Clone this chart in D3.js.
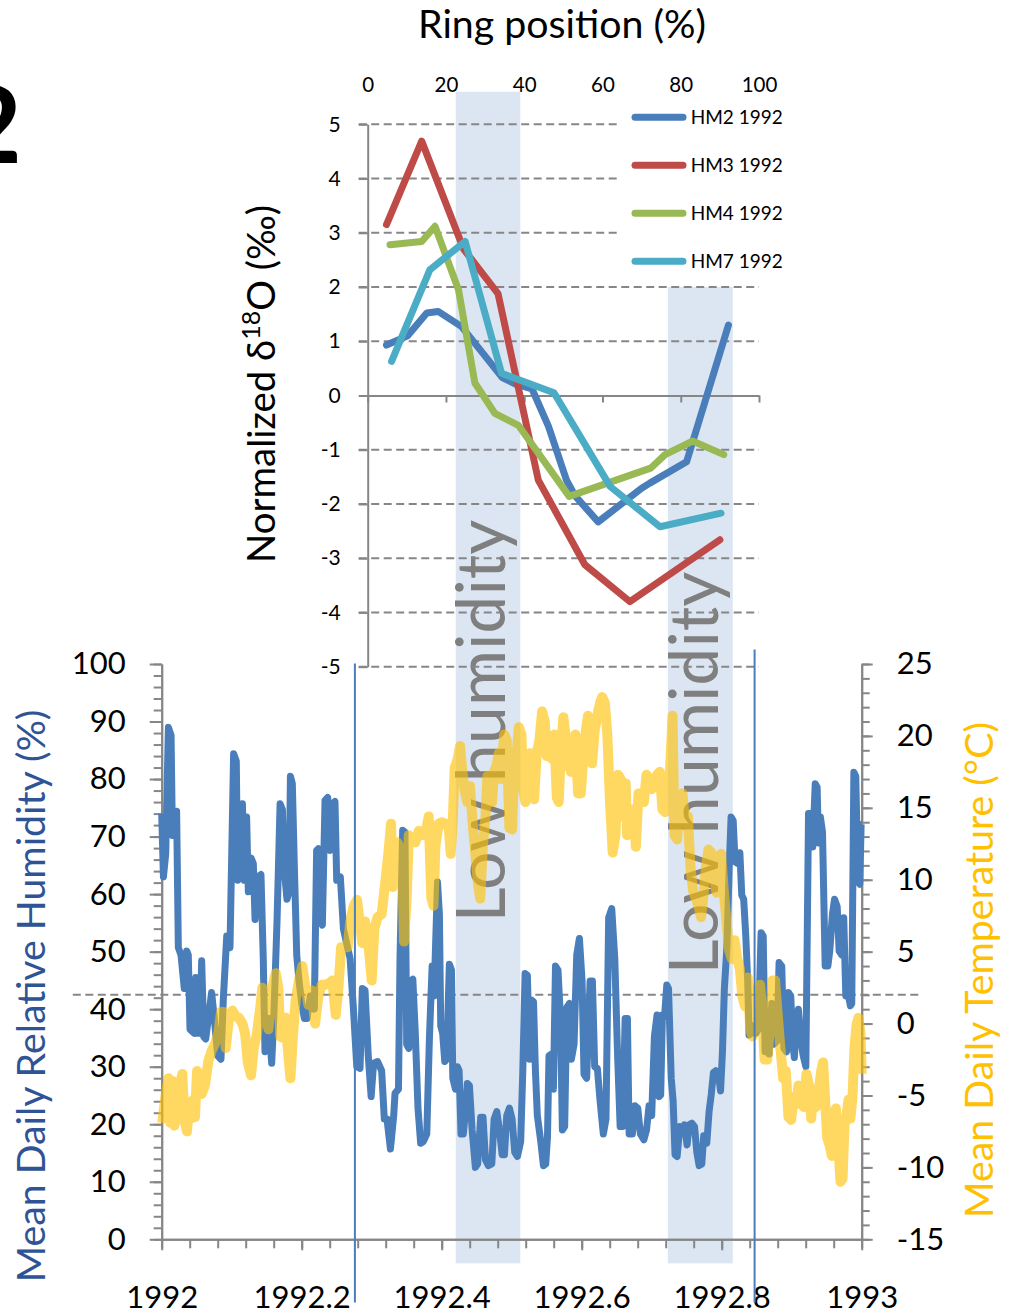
<!DOCTYPE html>
<html>
<head>
<meta charset="utf-8">
<script src="https://cdn.jsdelivr.net/npm/d3@7"></script>
<style>
  body { margin: 0; background: #fff; }
  svg { display: block; font-family: Lato, "Open Sans", sans-serif; }
</style>
</head>
<body>
<script>
// ---- top panel: ring position vs normalized d18O ----
const ringTicks = [0, 20, 40, 60, 80, 100];
const deltaTicks = [5, 4, 3, 2, 1, 0, -1, -2, -3, -4, -5];
const seriesNames = ["HM2 1992", "HM3 1992", "HM4 1992", "HM7 1992"];

const hm2 = [[4.8, 0.93], [10.2, 1.1], [15.1, 1.52], [18, 1.55], [24, 1.27], [34.4, 0.33], [37.5, 0.22],
  [42, 0.12], [46.2, -0.57], [50.8, -1.56], [53, -1.85], [58.9, -2.33], [70, -1.71], [72, -1.62],
  [81.5, -1.22], [92.2, 1.3]];
const hm3 = [[4.8, 3.15], [13.8, 4.69], [24.5, 2.7], [33.3, 1.88], [43.6, -1.56], [55.5, -3.12],
  [67, -3.8], [90, -2.66]];
const hm4 = [[5.7, 2.78], [13.8, 2.84], [17.2, 3.12], [23.2, 1.95], [27.4, 0.23], [32.5, -0.33],
  [38.5, -0.55], [51.5, -1.86], [72.3, -1.34], [76, -1.09], [83, -0.84], [91, -1.09]];
const hm7 = [[6.1, 0.63], [15.9, 2.32], [24.9, 2.84], [34.2, 0.41], [47.6, 0.05], [62, -1.68],
  [74.7, -2.42], [90.3, -2.17]];

// low humidity periods: ring position from, to, band top, band bottom (permil units)
const lowHumidity = [[22.5, 39.0, 5.6, -16], [76.7, 93.3, 2.0, -16]];

// ---- bottom panel: daily climate 1992 ----
const yearTicks = [1992, 1992.2, 1992.4, 1992.6, 1992.8, 1993];
const humidityTicks = [0, 10, 20, 30, 40, 50, 60, 70, 80, 90, 100];
const temperatureTicks = [-15, -10, -5, 0, 5, 10, 15, 20, 25];

// [day of year, mean daily relative humidity %]
const humidity = [[0, 74], [0.9, 63], [2.1, 67], [3.5, 89], [4.9, 87.6], [5.6, 70.2], [6.6, 72], [7.8, 74.4],
  [8.7, 50.7], [10.1, 49.4], [11.8, 43.6], [13.1, 50.1], [13.9, 49.4], [14.8, 36.5], [17.1, 35.8],
  [17.8, 45.5], [18.8, 35.8], [20, 35.8], [20.9, 48.4], [22, 35.2], [23, 34.8], [24.4, 38.4], [26.1, 42.9],
  [27.5, 38.4], [29.3, 31.9], [31, 31.3], [32.2, 41.6], [34, 52.7], [35.7, 50.7], [37.6, 84.4], [39, 83.1],
  [39.7, 62.4], [41.1, 70.8], [42.2, 75.7], [43.2, 62.4], [44.4, 73.4], [45.3, 60.4], [46.7, 66.3],
  [47.9, 65.3], [48.8, 55.6], [50.2, 63], [51.9, 63.4], [53.1, 48.8], [54, 32.6], [55.8, 38.4], [57.5, 30.6],
  [58.6, 38.4], [60.3, 55.3], [61.9, 75.7], [63.1, 74.7], [64.1, 64.3], [65.5, 59.1], [66.6, 60.4],
  [67.3, 80.5], [68.3, 79.2], [69.4, 64.3], [70.6, 49.4], [71.8, 44.9], [73.2, 41], [74.6, 38.4], [76, 38.4],
  [77.7, 42.3], [79.8, 40], [81, 67.6], [81.9, 67.9], [82.8, 55.9], [84, 54.6], [85.4, 76.3], [86.8, 76.8],
  [88, 67.6], [89.2, 75.7], [90.6, 76.1], [91.5, 62.4], [93.4, 63], [95, 54], [96.7, 51.4], [98.5, 48.8],
  [100.2, 40.3], [102, 30], [103.7, 29.7], [104.9, 43.6], [106.3, 43.3], [108, 31.9], [109.5, 24.8],
  [110.8, 30.6], [112.9, 30.9], [115, 29.3], [116.4, 20.9], [117.8, 20.9], [119.6, 15.7], [121.3, 21.5],
  [122, 25.4], [123.8, 26.1], [124.6, 48.8], [126, 71.1], [127.2, 70.8], [128.1, 33.9], [129.2, 33.2],
  [130.2, 44.9], [131.3, 45.2], [132.6, 35.8], [134, 22.8], [135.4, 16.7], [136.8, 17], [138.6, 18.3],
  [140, 35.2], [141.4, 47.5], [142.4, 42.3], [144.2, 62.1], [145.2, 56.5], [145.9, 37.1], [146.9, 35.8],
  [148, 30.9], [149, 31.3], [150.4, 47.8], [151.5, 46.8], [152.2, 28], [153.6, 26.1], [154.6, 30],
  [155.5, 29.3], [156.5, 18.3], [157.7, 18.3], [158.8, 22.2], [159.8, 27.1], [160.9, 26.7], [162.3, 19],
  [164, 12.5], [165.2, 13.1], [166.8, 21.2], [168, 21.2], [169.3, 13.8], [170.8, 12.8], [172.6, 13.1],
  [173.8, 20.9], [175.2, 22.2], [176.6, 19], [178, 14.7], [179.2, 14.7], [180.4, 21.5], [181.8, 22.8],
  [183.2, 20.9], [184.6, 15.1], [186, 14.4], [187.7, 17], [188.8, 29.3], [190, 46.2], [191.2, 45.9],
  [192.3, 31.3], [193.3, 41.6], [194.4, 41.3], [195.4, 29.3], [196.4, 21.5], [198.2, 17], [199.6, 12.8],
  [200.8, 13.1], [201.7, 17.7], [202.5, 31.9], [203.9, 32.2], [204.8, 26.1], [205.9, 47.5], [207.2, 46.8],
  [208.5, 38.4], [209.5, 19], [210.7, 19.6], [211.8, 40.3], [213.2, 41], [214.2, 31.3], [215.6, 33.9],
  [217, 49.4], [218.4, 52.3], [219.8, 44.9], [220.8, 28.7], [222.2, 28], [224, 44.9], [225.2, 44.9],
  [226.4, 30], [227.8, 29.7], [229.2, 24.1], [230.9, 18.3], [232.3, 20.9], [233.7, 55.9], [235.3, 57.5],
  [236.9, 48.8], [238.3, 32.6], [239.7, 19.6], [241.1, 19.6], [242.3, 38.4], [243.5, 38.4], [244.4, 18.3],
  [246.1, 18.3], [247.5, 23.2], [248.9, 22.8], [250.3, 18.3], [252.1, 17.3], [253.5, 19], [254.8, 23.2],
  [256.2, 21.5], [257.6, 35.2], [259, 39], [260.1, 24.8], [260.9, 25.1], [261.8, 39], [262.9, 38.7],
  [264.1, 44.2], [265, 43.6], [266.4, 28], [267.4, 24.1], [268.4, 14.7], [269.5, 14.4], [270.9, 19.6],
  [272.3, 19], [273.3, 19.9], [274.7, 16.4], [275.8, 19.9], [277.2, 20.2], [278.6, 19.6], [279.8, 15.1],
  [281, 12.8], [282.4, 13.1], [283.4, 18], [285, 16.7], [286.2, 22.2], [287.3, 25.1], [288.5, 29],
  [289.7, 29.3], [291.1, 28.7], [292.2, 25.8], [293.2, 32.6], [294.2, 43.6], [295.5, 50.7], [296.7, 64.3],
  [297.7, 73.4], [298.8, 72.8], [299.8, 65.6], [301.2, 65.3], [302.3, 67.2], [303.3, 59.8], [304.3, 59.1],
  [305.4, 52.7], [306.4, 44.9], [307.1, 35.5], [308.2, 35.8], [309.2, 37.1], [310.6, 35.8], [312, 36.5],
  [313.4, 53.3], [314.5, 52.7], [315.5, 32.6], [316.6, 34.5], [317.6, 32.2], [319, 41], [320, 33.9],
  [321.8, 34.5], [322.8, 48.1], [324.2, 47.5], [325.3, 33.2], [326.7, 32.6], [327.7, 42.9], [328.9, 42.3],
  [330, 33.9], [330.8, 31.6], [331.9, 38.4], [332.9, 40], [334.2, 34.5], [335.4, 31.9], [336.8, 30],
  [338.2, 74], [339.6, 74], [340.4, 68.2], [341.7, 79.2], [342.7, 78.6], [343.4, 68.9], [344.4, 73.4],
  [345.5, 70.8], [346.9, 47.5], [348.3, 47.5], [349.3, 50.1], [350.7, 56.5], [351.8, 59.1], [353.2, 57.8],
  [354.2, 50.1], [355.6, 49.4], [356.6, 55.9], [357.7, 42.3], [359.1, 42.3], [360.1, 40.6], [360.8, 41],
  [361.9, 81.2], [362.9, 80.5], [364, 62.4], [365, 61.7], [365.7, 72.1], [366, 72.1]];

// [day of year, mean daily temperature °C]
const temperature = [[0.3, -6.9], [1.7, -5.3], [3.5, -3.8], [4.5, -6.9], [5.6, -4.0], [6.6, -7.1], [7.7, -6.6],
  [9.0, -4.6], [10.8, -3.5], [11.8, -6.6], [13.2, -7.5], [14.3, -5.9], [15.3, -6.6], [16.4, -5.3],
  [17.4, -6.5], [18.5, -3.3], [19.5, -3.5], [20.9, -4.9], [22.6, -4.3], [24.4, -2.6], [26.1, -1.9],
  [27.9, -1.4], [29.6, -0.7], [31.0, 0.8], [32.2, 0.8], [33.5, -1.7], [35.2, 0.4], [37.0, 0.9], [38.7, 0.5],
  [40.4, 0.4], [42.2, 0.0], [43.6, -0.7], [45.0, -2.7], [46.7, -3.6], [48.1, -1.7], [49.8, -0.7], [51.6, 1.2],
  [52.6, 2.5], [54.0, 1.2], [55.8, -0.4], [57.5, 2.3], [59.6, 3.5], [61.0, 2.5], [62.0, -0.9], [63.4, -1.0],
  [64.8, 0.4], [65.9, -1.7], [67.3, -3.8], [68.7, -0.7], [70.1, 1.7], [71.8, 3.0], [73.5, 4.0], [74.9, 2.7],
  [76.7, 1.3], [78.4, 2.3], [80.2, 0.0], [81.9, 1.9], [83.7, 2.7], [85.7, 2.7], [87.5, 2.8], [89.2, 3.0],
  [91.0, 0.6], [92.4, 2.5], [93.8, 5.3], [95.5, 5.3], [97.2, 5.3], [98.6, 7.1], [100.4, 8.2], [102.1, 8.6],
  [103.5, 7.1], [104.9, 5.6], [106.3, 7.1], [108.0, 5.6], [109.8, 3.0], [111.2, 6.6], [112.9, 7.4],
  [115.0, 7.6], [116.8, 9.7], [118.5, 11.8], [119.9, 13.9], [120.8, 9.5], [122.0, 11.8], [123.2, 12.6],
  [124.6, 12.2], [125.7, 11.8], [126.7, 5.7], [128.1, 8.7], [129.2, 13.1], [130.9, 12.8], [132.6, 12.6],
  [134.4, 13.4], [136.1, 13.1], [137.9, 13.2], [139.6, 14.4], [141.0, 8.7], [142.1, 8.2], [143.1, 12.3],
  [144.8, 13.9], [146.6, 14.0], [148.3, 13.9], [150.1, 13.6], [151.1, 11.8], [152.2, 14.1], [153.2, 17.8],
  [154.6, 18.3], [156.0, 19.3], [157.0, 17.8], [158.4, 16.2], [159.8, 15.4], [161.2, 16.5], [162.6, 13.9],
  [164.0, 11.8], [165.4, 9.7], [166.5, 8.7], [167.9, 12.3], [169.3, 14.4], [170.3, 17.2], [171.7, 17.0],
  [172.7, 15.4], [173.8, 17.5], [175.2, 18.0], [176.2, 18.8], [177.6, 17.0], [179.0, 20.1], [180.4, 19.7],
  [181.8, 13.6], [183.2, 13.5], [184.2, 17.5], [185.6, 18.8], [186.7, 20.6], [188.1, 20.1], [189.1, 16.2],
  [190.2, 15.4], [191.6, 17.5], [192.6, 18.8], [193.7, 16.5], [194.7, 15.6], [196.1, 18.8], [197.5, 19.7],
  [198.9, 21.7], [200.3, 21.0], [201.3, 18.6], [202.7, 19.3], [204.1, 18.4], [205.2, 20.1], [206.6, 15.7],
  [207.6, 15.4], [208.6, 18.6], [210.0, 21.3], [211.1, 20.1], [212.5, 18.3], [213.9, 17.5], [215.3, 19.6],
  [216.3, 20.1], [217.7, 16.0], [219.1, 16.0], [220.5, 18.6], [221.9, 20.5], [222.9, 21.4], [224.0, 21.0],
  [225.0, 18.1], [226.4, 20.4], [227.8, 21.4], [229.2, 22.3], [230.3, 22.7], [231.7, 22.3], [233.0, 20.1],
  [234.4, 15.4], [235.8, 11.9], [237.2, 13.1], [238.6, 17.3], [240.0, 17.0], [241.4, 14.4], [242.6, 16.7],
  [243.3, 13.1], [244.4, 14.9], [245.4, 14.4], [246.8, 14.9], [247.9, 12.3], [249.3, 16.0], [250.7, 16.0],
  [252.1, 15.4], [253.5, 17.3], [254.8, 17.0], [256.2, 16.3], [257.6, 16.6], [259.0, 17.3], [260.4, 17.5],
  [261.8, 14.9], [263.2, 14.7], [264.3, 15.4], [265.7, 17.5], [267.1, 21.4], [268.1, 13.1], [269.5, 12.8],
  [270.9, 15.7], [272.3, 16.0], [273.7, 13.9], [275.1, 14.4], [276.5, 10.8], [277.9, 9.2], [279.3, 8.7],
  [280.6, 8.2], [282.0, 7.4], [283.1, 8.7], [284.5, 10.8], [285.9, 12.1], [287.3, 11.9], [288.7, 10.2],
  [290.1, 9.1], [291.1, 11.5], [292.5, 11.8], [293.9, 9.2], [295.3, 7.1], [296.7, 5.1], [298.1, 4.5],
  [299.5, 5.8], [300.9, 4.5], [302.3, 3.8], [303.6, 1.9], [305.0, 1.2], [306.4, 3.2], [307.7, -0.4],
  [308.9, -0.9], [310.3, 0.9], [311.7, 2.5], [312.9, 2.7], [314.1, 0.4], [315.2, -2.5], [316.6, -2.5],
  [318.0, -0.4], [319.3, 3.0], [320.7, 3.0], [322.1, 0.6], [323.5, -1.7], [324.9, -3.8], [326.3, -3.3],
  [327.7, -6.5], [329.1, -6.7], [330.5, -5.1], [331.9, -5.6], [332.9, -4.3], [334.3, -5.3], [335.7, -5.8],
  [337.1, -3.5], [338.5, -4.3], [339.6, -6.6], [340.6, -4.6], [342.0, -5.8], [343.4, -4.8], [344.8, -3.3],
  [345.8, -2.7], [346.9, -5.3], [347.9, -7.9], [349.3, -8.5], [350.4, -9.2], [351.4, -6.4], [352.5, -5.9],
  [353.9, -8.7], [354.9, -11.0], [356.0, -10.8], [357.0, -7.1], [358.0, -6.4], [359.1, -5.3], [360.1, -6.6],
  [361.2, -5.1], [362.2, -1.7], [363.3, -0.1], [364.3, 0.4], [365.4, -0.7], [366, -3.5]];

// ring start / end marks: [year, top of mark in % humidity]
const sampleMarks = [[1992.276, 100.1], [1992.847, 102.5]];
const markBottom = -11;
const tempThreshold = 2;
const thresholdSpan = [1991.873, 1993.086];

const width = 1017, height = 1314;
const axisGrey = "#868686";
const colors = ["#4A7EBB", "#BE4B48", "#98B954", "#4BACC6"];

const svg = d3.select("body").append("svg")
    .attr("width", width)
    .attr("height", height);

// scales
const xRing = d3.scaleLinear().domain([0, 100]).range([367.7, 759]);
const yDelta = d3.scaleLinear().domain([-5, 5]).range([666.7, 124.3]);
const xYear = d3.scaleLinear().domain([1992, 1993]).range([161.7, 861.7]);
const yRH = d3.scaleLinear().domain([0, 100]).range([1239.3, 664]);
const yTemp = d3.scaleLinear().domain([-15, 25]).range([1239.3, 664]);
const toYear = d => 1992 + d / 366;
const plain = d => String(d);  // hyphen minus like the original, not U+2212

// scale a text so it takes a given length
function fitLength(text, target) {
  const len = text.node().getComputedTextLength();
  const size = parseFloat(text.attr("font-size"));
  text.attr("font-size", size * target / len);
}

// low humidity bands
svg.selectAll(".band")
    .data(lowHumidity)
    .enter().append("rect")
    .attr("class", "band")
    .attr("x", d => xRing(d[0]))
    .attr("width", d => xRing(d[1]) - xRing(d[0]))
    .attr("y", d => yDelta(d[2]))
    .attr("height", d => yDelta(d[3]) - yDelta(d[2]))
    .attr("fill", "#DCE6F2");

const bandLabelY = [721, 773];
lowHumidity.forEach((b, i) => {
  const t = svg.append("text")
      .attr("transform", `translate(${xRing(b[1]) - 15},${bandLabelY[i]}) rotate(-90)`)
      .attr("text-anchor", "middle")
      .attr("font-size", 60)
      .attr("fill", "#7F7F7F")
      .text("Low humidity");
  fitLength(t, 403);
});

// ---- top panel axes ----
svg.selectAll(".grid")
    .data(deltaTicks.filter(d => d !== 0))
    .enter().append("line")
    .attr("class", "grid")
    .attr("x1", xRing(0) - 9)
    .attr("x2", xRing(100))
    .attr("y1", d => yDelta(d))
    .attr("y2", d => yDelta(d))
    .attr("stroke", axisGrey)
    .attr("stroke-width", 2)
    .attr("stroke-dasharray", "8,4.5");

// x axis crossing at zero
svg.append("g")
    .attr("transform", `translate(0,${yDelta(0)})`)
    .call(d3.axisBottom(xRing).tickValues(ringTicks).tickSize(7).tickFormat("").tickSizeOuter(0))
    .attr("color", axisGrey)
    .call(g => g.selectAll("path, line").attr("stroke-width", 2));

svg.append("g")
    .attr("transform", `translate(0,92)`)
    .call(d3.axisTop(xRing).tickValues(ringTicks).tickSize(0).tickPadding(0))
    .attr("font-family", null)
    .attr("font-size", 20.5)
    .call(g => g.select(".domain").remove())
    .call(g => g.selectAll("text").attr("fill", "#000"));

svg.append("g")
    .attr("transform", `translate(${xRing(0)},0)`)
    .call(d3.axisLeft(yDelta).tickValues(deltaTicks).tickFormat(plain)
      .tickSize(9).tickPadding(18).tickSizeOuter(0))
    .attr("font-family", null)
    .attr("font-size", 21)
    .attr("color", axisGrey)
    .call(g => g.selectAll("path, line").attr("stroke-width", 2))
    .call(g => g.selectAll("text").attr("fill", "#000"));

// legend
svg.append("rect")
    .attr("x", 619).attr("y", 97)
    .attr("width", 171).attr("height", 183)
    .attr("fill", "#fff");

const legend = svg.selectAll(".legend")
    .data(seriesNames)
    .enter().append("g")
    .attr("class", "legend")
    .attr("transform", (d, i) => `translate(0,${117.3 + i * 48})`);

legend.append("line")
    .attr("x1", 635).attr("x2", 683)
    .attr("stroke", (d, i) => colors[i])
    .attr("stroke-width", 7)
    .attr("stroke-linecap", "round");

legend.append("text")
    .attr("x", 690.7)
    .attr("dy", "0.36em")
    .attr("font-size", 19)
    .text(d => d);

// isotope lines
const ringLine = d3.line()
    .x(d => xRing(d[0]))
    .y(d => yDelta(d[1]));

[hm2, hm3, hm4, hm7].forEach((s, i) => {
  svg.append("path")
      .datum(s)
      .attr("fill", "none")
      .attr("stroke", colors[i])
      .attr("stroke-width", 7)
      .attr("stroke-linejoin", "round")
      .attr("stroke-linecap", "round")
      .attr("d", ringLine);
});

// ---- bottom panel axes ----
svg.append("g")
    .attr("transform", `translate(${xYear(1992)},0)`)
    .call(d3.axisLeft(yRH).tickValues(d3.range(0, 101, 2)).tickSize(8).tickFormat("").tickSizeOuter(0))
    .attr("color", axisGrey)
    .call(g => g.selectAll("path, line").attr("stroke-width", 2));

svg.append("g")
    .attr("transform", `translate(${xYear(1992)},0)`)
    .call(d3.axisLeft(yRH).tickValues(humidityTicks).tickSize(12).tickPadding(24).tickSizeOuter(0))
    .attr("font-family", null)
    .attr("font-size", 31)
    .attr("color", axisGrey)
    .call(g => g.selectAll("path, line").attr("stroke-width", 2))
    .call(g => g.selectAll("text").attr("fill", "#000"));

svg.append("g")
    .attr("transform", `translate(${xYear(1993)},0)`)
    .call(d3.axisRight(yTemp).tickValues(d3.range(-15, 26, 1)).tickSize(8).tickFormat("").tickSizeOuter(0))
    .attr("color", axisGrey)
    .call(g => g.selectAll("path, line").attr("stroke-width", 2));

svg.append("g")
    .attr("transform", `translate(${xYear(1993)},0)`)
    .call(d3.axisRight(yTemp).tickValues(temperatureTicks).tickFormat(plain)
      .tickSize(11).tickPadding(24).tickSizeOuter(0))
    .attr("font-family", null)
    .attr("font-size", 31)
    .attr("color", axisGrey)
    .call(g => g.selectAll("path, line").attr("stroke-width", 2))
    .call(g => g.selectAll("text").attr("fill", "#000"));

svg.append("g")
    .attr("transform", `translate(0,${yRH(0)})`)
    .call(d3.axisBottom(xYear).tickValues(d3.range(0, 26).map(i => 1992 + i * 0.04))
      .tickSize(9).tickFormat("").tickSizeOuter(0))
    .attr("color", axisGrey)
    .call(g => g.selectAll("path, line").attr("stroke-width", 2));

svg.append("g")
    .attr("transform", `translate(0,${yRH(0)})`)
    .call(d3.axisBottom(xYear).tickValues(yearTicks).tickSize(11).tickPadding(36)
      .tickFormat(d => +d.toFixed(1)).tickSizeOuter(0))
    .attr("font-family", null)
    .attr("font-size", 31)
    .attr("color", axisGrey)
    .call(g => g.selectAll("path, line").attr("stroke-width", 2))
    .call(g => g.selectAll("text").attr("fill", "#000"));

// temperature threshold
svg.append("line")
    .attr("x1", xYear(thresholdSpan[0]))
    .attr("x2", xYear(thresholdSpan[1]))
    .attr("y1", yTemp(tempThreshold))
    .attr("y2", yTemp(tempThreshold))
    .attr("stroke", axisGrey)
    .attr("stroke-width", 2)
    .attr("stroke-dasharray", "8,4.5");

// humidity and temperature
svg.append("path")
    .datum(humidity)
    .attr("fill", "none")
    .attr("stroke", "#4A7EBB")
    .attr("stroke-width", 7)
    .attr("stroke-linejoin", "round")
    .attr("d", d3.line().x(d => xYear(toYear(d[0]))).y(d => yRH(d[1])));

svg.append("path")
    .datum(temperature)
    .attr("fill", "none")
    .attr("stroke", "#FFC000")
    .attr("stroke-opacity", 0.62)
    .attr("stroke-width", 10)
    .attr("stroke-linejoin", "round")
    .attr("d", d3.line().x(d => xYear(toYear(d[0]))).y(d => yTemp(d[1])));

// ring start / end marks
svg.selectAll(".mark")
    .data(sampleMarks)
    .enter().append("line")
    .attr("class", "mark")
    .attr("x1", d => xYear(d[0]))
    .attr("x2", d => xYear(d[0]))
    .attr("y1", d => yRH(d[1]))
    .attr("y2", yRH(markBottom))
    .attr("stroke", "#4A7EBB")
    .attr("stroke-width", 2);

// ---- titles ----
const topTitle = svg.append("text")
    .attr("x", 562).attr("y", 38)
    .attr("text-anchor", "middle")
    .attr("font-size", 38)
    .text("Ring position (%)");
fitLength(topTitle, 288);

const deltaTitle = svg.append("text")
    .attr("transform", "translate(275,384) rotate(-90)")
    .attr("text-anchor", "middle")
    .attr("font-size", 38);
deltaTitle.append("tspan").text("Normalized δ");
deltaTitle.append("tspan").attr("font-size", "65%").attr("baseline-shift", "super").text("18");
deltaTitle.append("tspan").text("O (‰)");
fitLength(deltaTitle, 358);

const rhTitle = svg.append("text")
    .attr("transform", "translate(45,996) rotate(-90)")
    .attr("text-anchor", "middle")
    .attr("font-size", 38)
    .attr("fill", "#2F5496")
    .text("Mean Daily Relative Humidity (%)");
fitLength(rhTitle, 573);

const tempTitle = svg.append("text")
    .attr("transform", "translate(993,970) rotate(-90)")
    .attr("text-anchor", "middle")
    .attr("font-size", 38)
    .attr("fill", "#FFC000")
    .text("Mean Daily Temperature (°C)");
fitLength(tempTitle, 496);

// panel number, cut by the page edge as in the original figure
svg.append("text")
    .attr("x", 22).attr("y", 163)
    .attr("text-anchor", "end")
    .attr("font-size", 108)
    .attr("font-weight", "bold")
    .text("2");
</script>
</body>
</html>
